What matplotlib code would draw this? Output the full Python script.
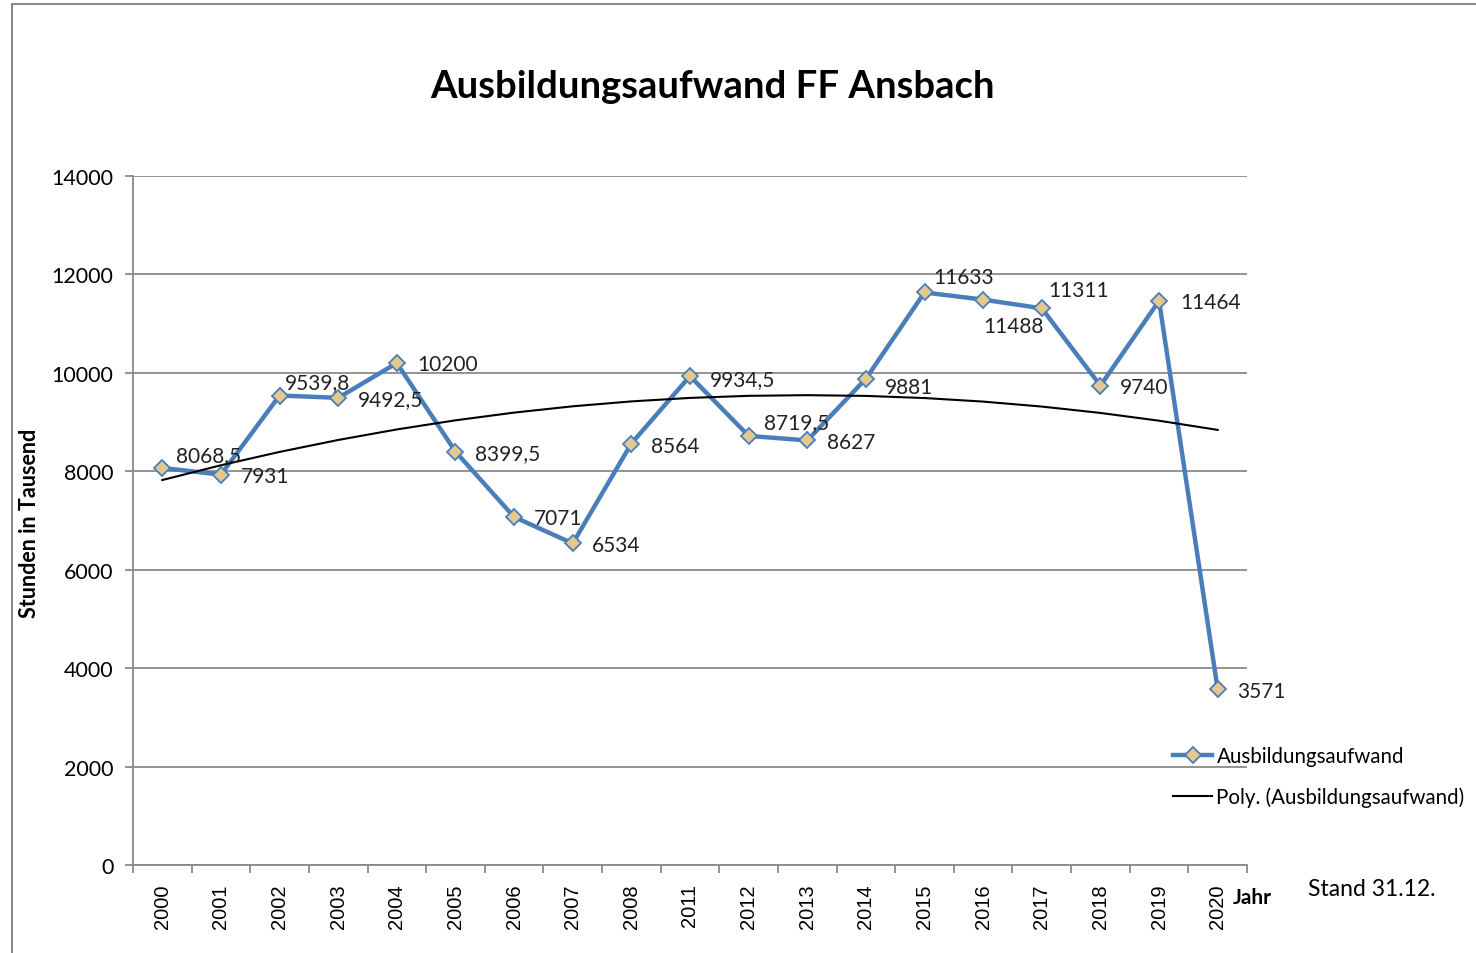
import numpy as np
import matplotlib.pyplot as plt
from matplotlib.patches import Rectangle

plt.rcParams['font.family'] = ['Lato', 'DejaVu Sans']

jahre = ['2000', '2001', '2002', '2003', '2004', '2005', '2006', '2007', '2008',
         '2011', '2012', '2013', '2014', '2015', '2016', '2017', '2018', '2019', '2020']
aufwand = [8068.5, 7931, 9539.8, 9492.5, 10200, 8399.5, 7071, 6534, 8564,
           9934.5, 8719.5, 8627, 9881, 11633, 11488, 11311, 9740, 11464, 3571]
beschriftung = ['8068,5', '7931', '9539,8', '9492,5', '10200', '8399,5', '7071', '6534', '8564',
                '9934,5', '8719,5', '8627', '9881', '11633', '11488', '11311', '9740', '11464', '3571']
# label offsets in points (dx, dy)
offsets = [(10, 9), (14, -1), (4, 10), (14, -1), (15, -1), (14, -1), (14, -1), (14, -1), (14, -2),
           (14, -2), (11, 10), (14, -1), (14, -6), (6, 11), (0, -19), (5, 13), (14, -1), (15, -1), (14, -1)]

x = np.arange(len(jahre))
koeff = np.polyfit(x + 1, aufwand, 2)
trend = np.polyval(koeff, x + 1)

fig = plt.figure(figsize=(14.76, 9.54), dpi=100)
fig.patches.append(Rectangle((12 / 1476, -0.1), 1.2, 1.1 - 5 / 954, transform=fig.transFigure,
                             fill=False, edgecolor='#8a8a8a', linewidth=1.5))
ax = fig.add_axes([133 / 1476, 88 / 954, 1114 / 1476, 689 / 954])

blau = '#4a7ebb'
ax.plot(x, aufwand, color=blau, linewidth=3.2, marker='D', markersize=8.5,
        markerfacecolor='#e3c88f', markeredgecolor=blau, markeredgewidth=1.3,
        label='Ausbildungsaufwand', zorder=3)
ax.plot(x, trend, color='black', linewidth=1.5, label='Poly. (Ausbildungsaufwand)', zorder=4)

for xi, yi, txt, (dx, dy) in zip(x, aufwand, beschriftung, offsets):
    ax.annotate(txt, (xi, yi), xytext=(dx, dy), textcoords='offset points',
                ha='left', va='center', fontsize=15, color='#222222', zorder=5)

ax.set_xlim(-0.5, len(jahre) - 0.5)
ax.set_ylim(0, 14000)
ax.set_yticks(np.arange(0, 14001, 2000))
ax.set_xticks(x)
ax.set_xticklabels(jahre, rotation=90, fontsize=14.5, family=['Liberation Sans', 'DejaVu Sans'])
ax.set_xticks(np.arange(-0.5, len(jahre), 1), minor=True)
ax.tick_params(axis='x', which='major', length=0, pad=13)
ax.tick_params(axis='x', which='minor', length=6, color='#8a8a8a', width=1.3)
ax.tick_params(axis='y', length=6, color='#8a8a8a', width=1.3, labelsize=15.5, pad=8)
ax.grid(axis='y', color='#8a8a8a', linewidth=1.3)
ax.set_axisbelow(True)
for s in ['top', 'right']:
    ax.spines[s].set_visible(False)
for s in ['left', 'bottom']:
    ax.spines[s].set_color('#8a8a8a')
    ax.spines[s].set_linewidth(1.3)

fig.text(30 / 1476, 1 - 523 / 954, 'Stunden in Tausend', rotation=90, ha='center', va='center',
         fontsize=15.5, fontweight='bold')
fig.text(712 / 1476, 1 - 87 / 954, 'Ausbildungsaufwand FF Ansbach', ha='center', va='center',
         fontsize=27.5, fontweight='bold')
fig.text(1233 / 1476, 1 - 898 / 954, 'Jahr', ha='left', va='center', fontsize=15, fontweight='bold')
fig.text(1308 / 1476, 1 - 890 / 954, 'Stand 31.12.', ha='left', va='center', fontsize=16.5)

fig.legend(loc='upper left', bbox_to_anchor=(1163 / 1476, 1 - 737 / 954), frameon=False,
           fontsize=14.8, handlelength=1.9, handletextpad=0.2, labelspacing=1.0, borderpad=0)

plt.savefig('out.png', dpi=100)
